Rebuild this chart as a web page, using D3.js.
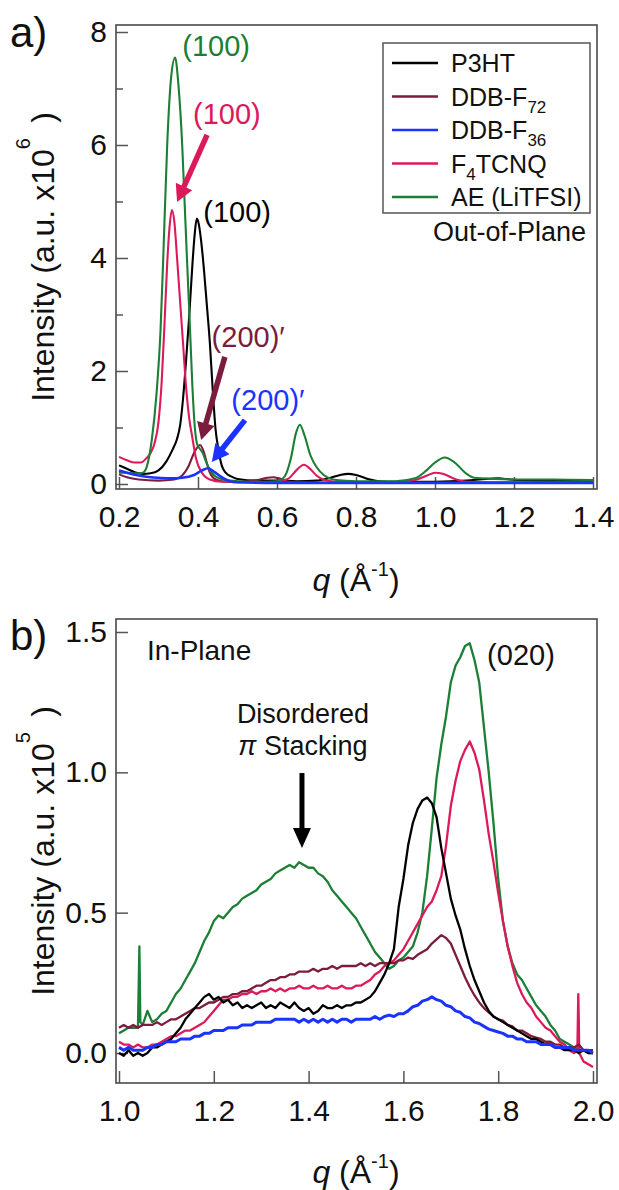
<!DOCTYPE html>
<html><head><meta charset="utf-8">
<script src="https://cdn.jsdelivr.net/npm/d3@7"></script>
<style>
body{margin:0;background:#fff}
svg{display:block}
text{font-family:"Liberation Sans",Arial,Helvetica,sans-serif;fill:#111}
</style>
</head><body>
<svg id="chart" width="619" height="1190"></svg>
<script>
// ================= DATA =================
// legend / series (order: P3HT, DDB-F72, DDB-F36, F4TCNQ, AE)
const seriesKeys = ["P3HT", "F72", "F36", "F4TCNQ", "AE"];
const legendMain = ["P3HT", "DDB-F", "DDB-F", "F", "AE (LiTFSI)"];
const legendSub  = ["", "72", "36", "4", ""];
const legendTail = ["", "", "", "TCNQ", ""];
const seriesColors = ["#000000", "#7b1c3e", "#1a33ff", "#dc1a5a", "#1b7f35"];

// ---- panel a: out-of-plane, q (1/Å) vs intensity (x10^6) ----
const xTicksA = [0.2, 0.4, 0.6, 0.8, 1.0, 1.2, 1.4];
const yTicksA = [0, 2, 4, 6, 8];
const yMinorA = [1, 3, 5, 7];

const aP3HT = [[0.20,0.33],[0.22,0.27],[0.24,0.21],[0.26,0.18],[0.28,0.19],[0.30,0.24],[0.32,0.40],[0.335,0.6],[0.347,0.8],[0.355,1.05],[0.362,1.5],[0.37,2.2],[0.378,3.0],[0.386,3.9],[0.392,4.45],[0.397,4.7],[0.402,4.6],[0.408,4.3],[0.415,3.8],[0.422,3.2],[0.43,2.5],[0.437,1.7],[0.444,1.0],[0.452,0.6],[0.46,0.33],[0.47,0.2],[0.485,0.13],[0.5,0.09],[0.55,0.06],[0.6,0.06],[0.65,0.05],[0.7,0.06],[0.73,0.1],[0.76,0.16],[0.78,0.18],[0.8,0.16],[0.83,0.09],[0.86,0.05],[0.9,0.04],[1.0,0.04],[1.08,0.06],[1.13,0.09],[1.16,0.1],[1.19,0.08],[1.25,0.06],[1.4,0.05]];
const aF72 = [[0.20,0.17],[0.22,0.12],[0.25,0.08],[0.30,0.06],[0.34,0.08],[0.36,0.15],[0.375,0.3],[0.39,0.55],[0.405,0.69],[0.415,0.56],[0.422,0.38],[0.43,0.2],[0.44,0.1],[0.46,0.05],[0.5,0.04],[0.55,0.07],[0.575,0.11],[0.59,0.12],[0.605,0.1],[0.625,0.05],[0.65,0.03],[0.8,0.02],[1.4,0.02]];
const aF36 = [[0.20,0.24],[0.22,0.2],[0.25,0.15],[0.28,0.12],[0.30,0.11],[0.33,0.1],[0.36,0.11],[0.39,0.16],[0.41,0.24],[0.425,0.28],[0.44,0.22],[0.46,0.12],[0.48,0.05],[0.5,0.03],[0.6,0.02],[1.4,0.02]];
const aF4TCNQ = [[0.20,0.48],[0.22,0.42],[0.24,0.38],[0.255,0.38],[0.27,0.46],[0.28,0.55],[0.29,0.72],[0.30,1.1],[0.308,1.8],[0.315,2.8],[0.322,3.9],[0.328,4.55],[0.334,4.85],[0.34,4.65],[0.347,4.0],[0.355,3.2],[0.362,2.5],[0.37,1.7],[0.378,1.15],[0.385,0.85],[0.395,0.45],[0.41,0.2],[0.43,0.08],[0.46,0.04],[0.55,0.03],[0.6,0.04],[0.63,0.1],[0.65,0.25],[0.668,0.34],[0.685,0.26],[0.7,0.15],[0.72,0.07],[0.75,0.04],[0.8,0.03],[0.9,0.03],[0.95,0.07],[0.98,0.15],[1.0,0.2],[1.02,0.18],[1.05,0.09],[1.08,0.04],[1.2,0.03],[1.4,0.03]];
const aAE = [[0.20,0.2],[0.22,0.2],[0.24,0.19],[0.26,0.2],[0.27,0.3],[0.283,0.78],[0.295,1.6],[0.305,2.7],[0.312,4.0],[0.322,6.0],[0.332,7.2],[0.342,7.55],[0.35,7.1],[0.36,6.0],[0.366,5.0],[0.372,4.0],[0.38,2.7],[0.386,1.7],[0.392,1.0],[0.398,0.7],[0.405,0.62],[0.412,0.55],[0.42,0.4],[0.43,0.25],[0.445,0.13],[0.47,0.07],[0.5,0.05],[0.55,0.04],[0.6,0.05],[0.62,0.14],[0.635,0.45],[0.648,0.9],[0.658,1.05],[0.67,0.85],[0.685,0.5],[0.7,0.3],[0.72,0.15],[0.75,0.07],[0.8,0.05],[0.9,0.05],[0.95,0.1],[0.98,0.25],[1.0,0.38],[1.025,0.47],[1.05,0.38],[1.08,0.18],[1.1,0.11],[1.15,0.09],[1.2,0.08],[1.3,0.08],[1.4,0.07]];

// ---- panel b: in-plane, q grid 1.00..2.00 step 0.01, intensity (x10^5) ----
const xTicksB = [1.0, 1.2, 1.4, 1.6, 1.8, 2.0];
const yTicksB = [0.0, 0.5, 1.0, 1.5];
const qB = d3.range(101).map(i => (100 + i) / 100);

const bP3HT = [0.00,-0.01,0.01,-0.01,0.00,-0.01,0.00,0.02,0.02,0.03,0.04,0.05,0.07,0.09,0.12,0.14,0.16,0.18,0.20,0.21,0.19,0.20,0.18,0.19,0.17,0.18,0.16,0.17,0.16,0.17,0.18,0.16,0.17,0.16,0.18,0.17,0.16,0.18,0.16,0.15,0.16,0.14,0.15,0.17,0.16,0.16,0.17,0.16,0.17,0.17,0.18,0.18,0.19,0.20,0.22,0.25,0.28,0.32,0.37,0.52,0.62,0.74,0.82,0.87,0.90,0.91,0.89,0.84,0.73,0.64,0.55,0.49,0.44,0.37,0.31,0.26,0.22,0.18,0.15,0.13,0.12,0.11,0.10,0.09,0.08,0.07,0.06,0.05,0.05,0.04,0.03,0.03,0.02,0.02,0.01,0.01,0.01,0.00,0.01,0.00,0.00];
const bF72 = [0.09,0.10,0.09,0.10,0.09,0.10,0.10,0.10,0.11,0.10,0.11,0.12,0.12,0.13,0.14,0.15,0.16,0.16,0.17,0.18,0.18,0.19,0.20,0.20,0.21,0.21,0.22,0.22,0.23,0.24,0.24,0.25,0.26,0.26,0.27,0.27,0.28,0.28,0.29,0.29,0.29,0.30,0.29,0.30,0.30,0.31,0.30,0.31,0.31,0.31,0.31,0.32,0.31,0.32,0.31,0.32,0.32,0.32,0.32,0.33,0.33,0.34,0.335,0.35,0.36,0.37,0.39,0.405,0.42,0.41,0.39,0.35,0.31,0.27,0.235,0.205,0.18,0.16,0.145,0.13,0.12,0.115,0.10,0.095,0.08,0.08,0.07,0.06,0.055,0.05,0.04,0.04,0.03,0.03,0.02,0.02,0.02,0.03,0.01,0.01,0.01];
const bF36 = [0.02,0.01,0.02,0.01,0.01,0.01,0.02,0.02,0.03,0.03,0.04,0.04,0.04,0.05,0.05,0.05,0.06,0.06,0.07,0.07,0.08,0.08,0.08,0.09,0.09,0.09,0.10,0.10,0.10,0.11,0.11,0.11,0.11,0.12,0.12,0.12,0.12,0.12,0.11,0.12,0.11,0.12,0.11,0.12,0.11,0.12,0.11,0.12,0.12,0.11,0.12,0.12,0.12,0.12,0.13,0.12,0.13,0.135,0.13,0.14,0.14,0.15,0.165,0.17,0.185,0.19,0.20,0.19,0.185,0.17,0.165,0.15,0.145,0.13,0.125,0.11,0.105,0.095,0.085,0.08,0.075,0.07,0.06,0.06,0.05,0.05,0.04,0.04,0.04,0.03,0.03,0.03,0.02,0.02,0.02,0.02,0.01,0.01,0.01,0.01,0.00];
const bF4TCNQ = [0.04,0.03,0.03,0.02,0.03,0.02,0.02,0.03,0.03,0.04,0.05,0.06,0.06,0.07,0.08,0.08,0.09,0.10,0.11,0.13,0.15,0.17,0.19,0.19,0.20,0.20,0.21,0.21,0.22,0.21,0.22,0.22,0.23,0.22,0.23,0.22,0.23,0.23,0.24,0.23,0.23,0.24,0.23,0.23,0.24,0.23,0.23,0.24,0.23,0.23,0.24,0.24,0.25,0.26,0.28,0.29,0.31,0.32,0.33,0.35,0.37,0.40,0.43,0.46,0.49,0.52,0.54,0.58,0.63,0.74,0.88,0.97,1.04,1.08,1.11,1.07,1.01,0.90,0.78,0.68,0.57,0.47,0.38,0.31,0.25,0.21,0.18,0.16,0.13,0.11,0.09,0.08,0.06,0.04,0.03,0.01,0.00,0.12,-0.03,-0.04,-0.05];
const bAE = [0.07,0.08,0.09,0.09,0.09,0.10,0.15,0.11,0.12,0.14,0.15,0.18,0.21,0.23,0.26,0.29,0.32,0.36,0.40,0.43,0.47,0.49,0.48,0.50,0.52,0.53,0.55,0.56,0.57,0.58,0.60,0.61,0.62,0.64,0.65,0.66,0.67,0.66,0.68,0.67,0.66,0.66,0.64,0.63,0.61,0.58,0.56,0.54,0.52,0.50,0.48,0.45,0.42,0.39,0.36,0.34,0.32,0.30,0.31,0.33,0.34,0.36,0.38,0.43,0.50,0.63,0.80,0.98,1.10,1.20,1.32,1.38,1.41,1.45,1.46,1.40,1.32,1.16,1.00,0.82,0.62,0.47,0.38,0.32,0.28,0.26,0.23,0.20,0.17,0.15,0.13,0.10,0.08,0.05,0.04,0.03,0.02,0.01,0.01,0.00,0.00];
// narrow spikes (q, intensity)
const bAEspikes = [[1.043,0.38],[1.045,0.11]];
const bF4TCNQspikes = [[1.967,0.01],[1.969,0.21],[1.971,0.0]];

// annotations (data coordinates)
const annA = [
  {text:"(100)", q:0.446, v:7.75, c:4},
  {text:"(100)", q:0.473, v:6.55, c:3},
  {text:"(100)", q:0.499, v:4.81, c:0},
  {text:"(200)\u2032", q:0.527, v:2.60, c:1},
  {text:"(200)\u2032", q:0.577, v:1.49, c:2}
];
const arrowsA = [
  {q1:0.423, v1:6.18, q2:0.347, v2:4.99, c:3},
  {q1:0.468, v1:2.25, q2:0.408, v2:0.78, c:1},
  {q1:0.519, v1:1.13, q2:0.435, v2:0.39, c:2}
];

// ================= DRAW =================
const svg = d3.select("#chart");
svg.append("rect").attr("width",619).attr("height",1190).attr("fill","#fff");
const FONT_TICK = 30, FONT_LAB = 32, FONT_ANN = 29;

function frame(g, f){
  g.append("rect").attr("x",f.x0).attr("y",f.y0).attr("width",f.x1-f.x0).attr("height",f.y1-f.y0)
    .attr("fill","none").attr("stroke","#4a4a4a").attr("stroke-width",1.6);
}
function styleAxis(sel){
  sel.select(".domain").remove();
  sel.selectAll(".tick line").attr("stroke","#555").attr("stroke-width",1.5);
  sel.selectAll(".tick text").attr("font-size",FONT_TICK).attr("fill","#111")
    .style("font-family",'"Liberation Sans",Arial,sans-serif');
}
function arrow(g, x1,y1,x2,y2,color,w,hl,hw){
  const dx=x2-x1, dy=y2-y1, L=Math.hypot(dx,dy), ux=dx/L, uy=dy/L, px=-uy, py=ux;
  const bx=x2-ux*hl, by=y2-uy*hl;
  g.append("line").attr("x1",x1).attr("y1",y1).attr("x2",bx+ux*2).attr("y2",by+uy*2)
    .attr("stroke",color).attr("stroke-width",w);
  g.append("path").attr("d",`M${x2},${y2}L${bx+px*hw},${by+py*hw}L${bx-px*hw},${by-py*hw}Z`).attr("fill",color);
}
function qLabel(g, cx, y){
  const t = g.append("text").attr("x",cx).attr("y",y).attr("text-anchor","middle").attr("font-size",FONT_LAB);
  t.append("tspan").attr("font-style","italic").text("q");
  t.append("tspan").text(" (Å");
  t.append("tspan").attr("font-size",20).attr("dy",-15).text("-1");
  t.append("tspan").attr("dy",15).text(")");
}
function yLabel(g, x, cy, exp){
  const t = g.append("text").attr("transform",`translate(${x},${cy}) rotate(-90)`).attr("text-anchor","middle").attr("font-size",FONT_LAB);
  t.append("tspan").text("Intensity (a.u. x10");
  t.append("tspan").attr("font-size",20).attr("dy",-24).text(exp);
  t.append("tspan").attr("dy",24).text("\u2009 )");
}

// ---------- Panel a ----------
const fA = {x0:116, x1:597, y0:25, y1:489};
const xA = d3.scaleLinear().domain([0.2,1.4]).range([119,593]);
const yA = d3.scaleLinear().domain([0,8]).range([484,32]);
const gA = svg.append("g");
svg.append("defs").append("clipPath").attr("id","clipA").append("rect")
  .attr("x",fA.x0).attr("y",fA.y0).attr("width",fA.x1-fA.x0).attr("height",fA.y1-fA.y0);

gA.append("g").attr("transform",`translate(0,${fA.y1})`)
  .call(d3.axisBottom(xA).tickValues(xTicksA).tickFormat(d3.format(".1f")).tickSize(-12).tickPadding(17)).call(styleAxis);
gA.append("g").attr("transform",`translate(${fA.x0},0)`)
  .call(d3.axisLeft(yA).tickValues(yTicksA).tickFormat(d3.format("d")).tickSize(-12).tickPadding(9)).call(styleAxis);
gA.append("g").attr("transform",`translate(${fA.x0},0)`)
  .call(d3.axisLeft(yA).tickValues(yMinorA).tickFormat("").tickSize(-7)).call(styleAxis);

const lineA = d3.line().x(d=>xA(d[0])).y(d=>yA(d[1])).curve(d3.curveMonotoneX);
const seriesA = [aP3HT, aF72, aF4TCNQ, aAE, aF36];
const colIdxA = [0, 1, 3, 4, 2];
const cA = gA.append("g").attr("clip-path","url(#clipA)");
seriesA.forEach((s,i)=>{
  cA.append("path").attr("d",lineA(s)).attr("fill","none")
    .attr("stroke",seriesColors[colIdxA[i]]).attr("stroke-width", colIdxA[i]===2?2.6:2.1)
    .attr("stroke-linejoin","round");
});
frame(gA, fA);

// annotations a
annA.forEach(a=>{
  gA.append("text").attr("x",xA(a.q)).attr("y",yA(a.v)).attr("dy","0.35em").attr("text-anchor","middle")
    .attr("font-size",FONT_ANN).style("fill",seriesColors[a.c]).text(a.text);
});
arrowsA.forEach(a=>{
  arrow(gA, xA(a.q1),yA(a.v1),xA(a.q2),yA(a.v2),seriesColors[a.c],5.5,17,9);
});

// legend a
const leg = gA.append("g");
leg.append("rect").attr("x",383).attr("y",43).attr("width",207).attr("height",170)
  .attr("fill","#fff").attr("stroke","#555").attr("stroke-width",1.5);
legendMain.forEach((m,i)=>{
  const y = 63 + i*33.5;
  leg.append("line").attr("x1",392).attr("x2",438).attr("y1",y).attr("y2",y)
    .attr("stroke",seriesColors[i]).attr("stroke-width",2.5);
  const t = leg.append("text").attr("x",451).attr("y",y).attr("dy","0.36em").attr("font-size",25);
  t.append("tspan").text(m);
  if(legendSub[i]){
    t.append("tspan").attr("font-size",17).attr("dy",7).text(legendSub[i]);
    if(legendTail[i]) t.append("tspan").attr("dy",-7).text(legendTail[i]);
  }
});
gA.append("text").attr("x",586).attr("y",232).attr("dy","0.35em").attr("text-anchor","end")
  .attr("font-size",27).text("Out-of-Plane");

qLabel(gA, 356, 591);
yLabel(gA, 54, 257, "6");
svg.append("text").attr("x",10).attr("y",47).attr("font-size",42).text("a)");

// ---------- Panel b ----------
const fB = {x0:116, x1:597, y0:619, y1:1083};
const xB = d3.scaleLinear().domain([1.0,2.0]).range([119,593]);
const yB = d3.scaleLinear().domain([0,1.5]).range([1053,632]);
const gB = svg.append("g");
svg.select("defs").append("clipPath").attr("id","clipB").append("rect")
  .attr("x",fB.x0).attr("y",fB.y0).attr("width",fB.x1-fB.x0).attr("height",fB.y1-fB.y0);

gB.append("g").attr("transform",`translate(0,${fB.y1})`)
  .call(d3.axisBottom(xB).tickValues(xTicksB).tickFormat(d3.format(".1f")).tickSize(-12).tickPadding(17)).call(styleAxis);
gB.append("g").attr("transform",`translate(${fB.x0},0)`)
  .call(d3.axisLeft(yB).tickValues(yTicksB).tickFormat(d3.format(".1f")).tickSize(-12).tickPadding(9)).call(styleAxis);

function withSpikes(vals, spikes){
  const pts = qB.map((q,i)=>[q, vals[i]]);
  return pts.concat(spikes||[]).sort((a,b)=>a[0]-b[0]);
}
const lineB = d3.line().x(d=>xB(d[0])).y(d=>yB(d[1]));
const seriesB = [withSpikes(bAE,bAEspikes), withSpikes(bF4TCNQ,bF4TCNQspikes), withSpikes(bF72), withSpikes(bP3HT), withSpikes(bF36)];
const colIdxB = [4, 3, 1, 0, 2];
const cB = gB.append("g").attr("clip-path","url(#clipB)");
seriesB.forEach((s,i)=>{
  cB.append("path").attr("d",lineB(s)).attr("fill","none")
    .attr("stroke",seriesColors[colIdxB[i]]).attr("stroke-width", colIdxB[i]===2?3:2.3)
    .attr("stroke-linejoin","round");
});
frame(gB, fB);

gB.append("text").attr("x",xB(1.059)).attr("y",yB(1.436)).attr("dy","0.35em").attr("font-size",28).text("In-Plane");
gB.append("text").attr("x",xB(1.388)).attr("y",yB(1.211)).attr("dy","0.35em").attr("text-anchor","middle").attr("font-size",27).text("Disordered");
const ps = gB.append("text").attr("x",xB(1.388)).attr("y",yB(1.097)).attr("dy","0.35em").attr("text-anchor","middle").attr("font-size",27);
ps.append("tspan").attr("font-style","italic").text("\u03c0");
ps.append("tspan").text(" Stacking");
arrow(gB, xB(1.386), yB(0.9975), xB(1.386), yB(0.73), "#000", 5, 20, 9);
gB.append("text").attr("x",xB(1.848)).attr("y",yB(1.418)).attr("dy","0.35em").attr("text-anchor","middle").attr("font-size",FONT_ANN).text("(020)");

qLabel(gB, 356, 1183);
yLabel(gB, 54, 851, "5");
svg.append("text").attr("x",10).attr("y",650).attr("font-size",42).text("b)");
</script>
</body></html>
